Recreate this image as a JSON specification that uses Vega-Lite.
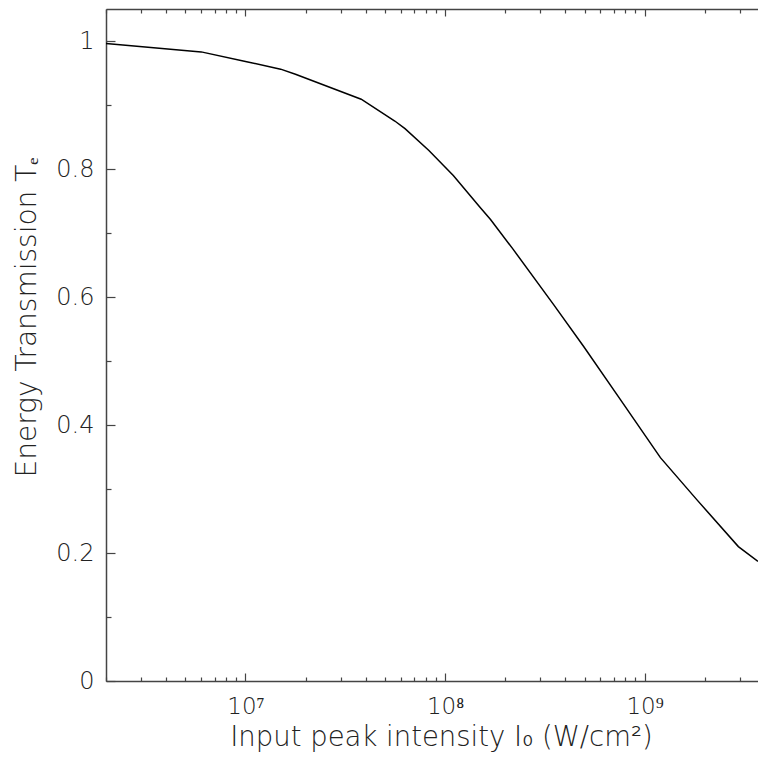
{
  "$schema": "https://vega.github.io/schema/vega-lite/v6.json",
  "width": 652,
  "height": 672,
  "autosize": "none",
  "padding": {"left": 106, "top": 9, "right": 0, "bottom": 78},
  "config": {
    "view": {"stroke": null},
    "font": "DejaVu Sans",
    "axis": {
      "grid": false,
      "domainColor": "#444",
      "tickColor": "#444",
      "domainWidth": 1.5,
      "tickWidth": 1.2,
      "labelColor": "#222",
      "titleColor": "#222",
      "labelFont": "DejaVu Sans",
      "titleFont": "DejaVu Sans",
      "labelFontWeight": 200,
      "titleFontWeight": 200,
      "labelFlush": false,
      "labelOverlap": false
    }
  },
  "data": {
    "values": [
      {"I": 2.0e6, "T": 0.996},
      {"I": 6.0e6, "T": 0.983},
      {"I": 1.0e7, "T": 0.968},
      {"I": 1.5e7, "T": 0.956},
      {"I": 1.78e7, "T": 0.948},
      {"I": 3.8e7, "T": 0.909},
      {"I": 5.6e7, "T": 0.875},
      {"I": 6.3e7, "T": 0.863},
      {"I": 8.3e7, "T": 0.829},
      {"I": 9.8e7, "T": 0.806},
      {"I": 1.1e8, "T": 0.790},
      {"I": 1.5e8, "T": 0.740},
      {"I": 1.69e8, "T": 0.721},
      {"I": 2.2e8, "T": 0.674},
      {"I": 3.5e8, "T": 0.588},
      {"I": 4.94e8, "T": 0.523},
      {"I": 7.55e8, "T": 0.440},
      {"I": 1.2e9, "T": 0.349},
      {"I": 1.83e9, "T": 0.283},
      {"I": 2.95e9, "T": 0.210},
      {"I": 3.7e9, "T": 0.187}
    ]
  },
  "layer": [
    {
      "mark": {"type": "line", "color": "#000", "strokeWidth": 1.5},
      "encoding": {
        "x": {
          "field": "I", "type": "quantitative",
          "scale": {"type": "log", "domain": [2e6, 3.7e9], "nice": false},
          "axis": {
            "orient": "bottom",
            "values": [1e7, 1e8, 1e9],
            "tickSize": -8,
            "labelFontSize": 23,
            "labelPadding": 22,
            "labelExpr": "datum.value < 5e7 ? '10⁷' : datum.value < 5e8 ? '10⁸' : '10⁹'",
            "title": "Input peak intensity I₀ (W/cm²)",
            "titleFontSize": 27.5,
            "titleBaseline": "alphabetic",
            "titleY": 64,
            "titleX": 335
          }
        },
        "y": {
          "field": "T", "type": "quantitative",
          "scale": {"domain": [0, 1.05], "nice": false},
          "axis": {
            "orient": "left",
            "values": [0, 0.2, 0.4, 0.6, 0.8, 1],
            "tickSize": -9,
            "labelFontSize": 24,
            "labelPadding": 21,
            "labelExpr": "datum.value == 0 ? '0' : datum.value == 1 ? '1' : format(datum.value, '.1f')",
            "title": "Energy Transmission  Tₑ",
            "titleFontSize": 28,
            "titleBaseline": "alphabetic",
            "titleX": -71,
            "titleY": 308
          }
        }
      }
    },
    {
      "mark": {"type": "line", "opacity": 0},
      "encoding": {
        "x": {
          "field": "I", "type": "quantitative",
          "axis": {
            "orient": "bottom",
            "values": [2e6, 3e6, 4e6, 5e6, 6e6, 7e6, 8e6, 9e6, 2e7, 3e7, 4e7, 5e7, 6e7, 7e7, 8e7, 9e7, 2e8, 3e8, 4e8, 5e8, 6e8, 7e8, 8e8, 9e8, 2e9, 3e9],
            "tickSize": -4,
            "labels": false,
            "domain": false,
            "title": null
          }
        },
        "y": {
          "field": "T", "type": "quantitative",
          "axis": {
            "orient": "left",
            "values": [0.1, 0.3, 0.5, 0.7, 0.9],
            "tickSize": -5,
            "labels": false,
            "domain": false,
            "title": null
          }
        }
      }
    },
    {
      "mark": {"type": "line", "opacity": 0},
      "encoding": {
        "x": {
          "field": "I", "type": "quantitative",
          "axis": {
            "orient": "top",
            "values": [1e7, 1e8, 1e9],
            "tickSize": -7,
            "labels": false,
            "title": null
          }
        },
        "y": {"field": "T", "type": "quantitative", "axis": null}
      }
    },
    {
      "mark": {"type": "line", "opacity": 0},
      "encoding": {
        "x": {
          "field": "I", "type": "quantitative",
          "axis": {
            "orient": "top",
            "values": [2e6, 3e6, 4e6, 5e6, 6e6, 7e6, 8e6, 9e6, 2e7, 3e7, 4e7, 5e7, 6e7, 7e7, 8e7, 9e7, 2e8, 3e8, 4e8, 5e8, 6e8, 7e8, 8e8, 9e8, 2e9, 3e9],
            "tickSize": -4,
            "labels": false,
            "domain": false,
            "title": null
          }
        },
        "y": {"field": "T", "type": "quantitative", "axis": null}
      }
    }
  ],
  "resolve": {"axis": {"x": "independent", "y": "independent"}}
}
